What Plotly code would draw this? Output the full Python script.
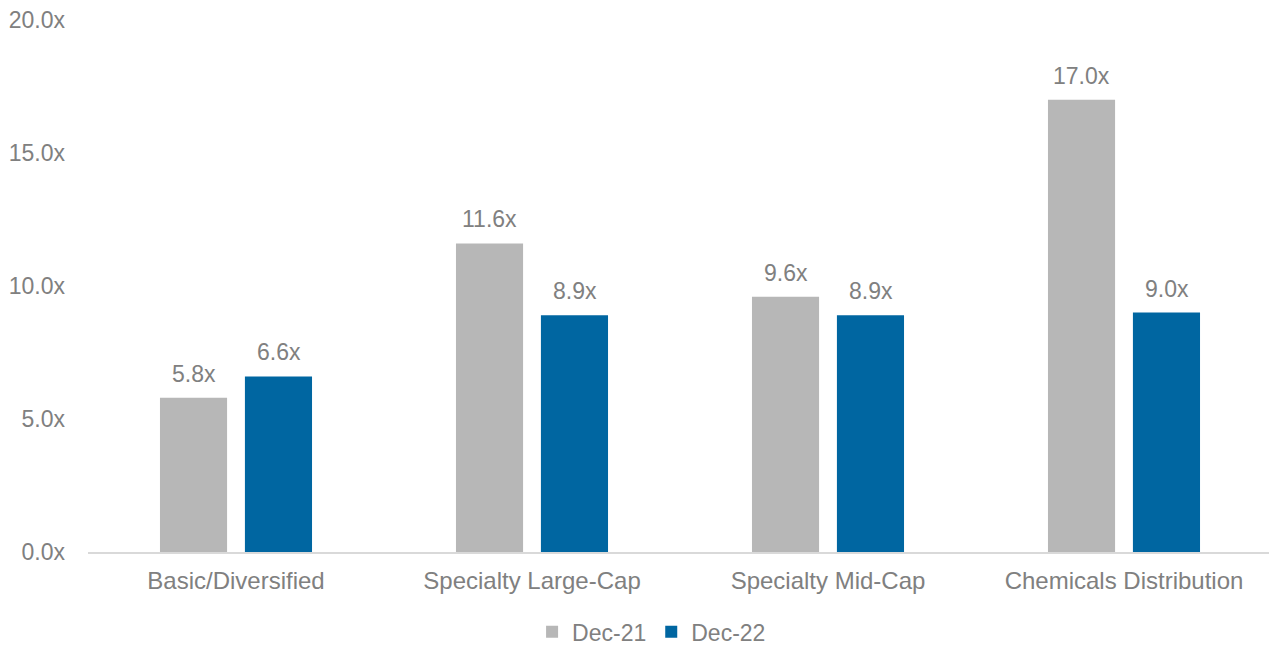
import plotly.graph_objects as go

categories = ["Basic/Diversified", "Specialty Large-Cap", "Specialty Mid-Cap", "Chemicals Distribution"]
dec21 = [5.8, 11.6, 9.6, 17.0]
dec22 = [6.6, 8.9, 8.9, 9.0]
yticks = [0, 5, 10, 15, 20]
ytick_labels = ["0.0x", "5.0x", "10.0x", "15.0x", "20.0x"]

font_color = "#808080"
fnt = dict(family="Liberation Sans, Arial, sans-serif", size=24, color=font_color)
fnt_y = dict(family="Liberation Sans, Arial, sans-serif", size=23, color=font_color)

fig = go.Figure()
fig.add_trace(go.Bar(
    name="Dec-21", x=categories, y=dec21,
    marker=dict(color="#b7b7b7", line=dict(width=0)),
))
fig.add_trace(go.Bar(
    name="Dec-22", x=categories, y=dec22,
    marker=dict(color="#0066a1", line=dict(width=0)),
))

# data labels
for vals, shift in ((dec21, -42.5), (dec22, 42.5)):
    for c, v in zip(categories, vals):
        fig.add_annotation(x=c, y=v, text=f"{v:.1f}x", showarrow=False,
                           xshift=shift, yshift=24, yanchor="middle", font=fnt_y)

fig.update_layout(
    width=1269, height=638,
    margin=dict(l=80, r=5, t=12, b=94, autoexpand=False),
    paper_bgcolor="white", plot_bgcolor="white",
    barmode="group", bargap=0.426, bargroupgap=0.21,
    font=fnt,
    showlegend=True,
    legend=dict(orientation="h", x=0.476, xanchor="center", y=-0.15, yanchor="middle",
                font=fnt_y, itemwidth=30, tracegroupgap=0),
    xaxis=dict(showline=True, linecolor="#d9d9d9", linewidth=2, showgrid=False,
               ticks="", tickfont=fnt, ticklabelstandoff=6, zeroline=False,
               automargin=False),
    yaxis=dict(range=[0, 20], tickvals=yticks, ticktext=ytick_labels, showgrid=False,
               zeroline=False, showline=False, ticks="", tickfont=fnt_y,
               ticklabelstandoff=22, automargin=False, ticklabeloverflow="allow"),
)

fig.write_html("out.html")
